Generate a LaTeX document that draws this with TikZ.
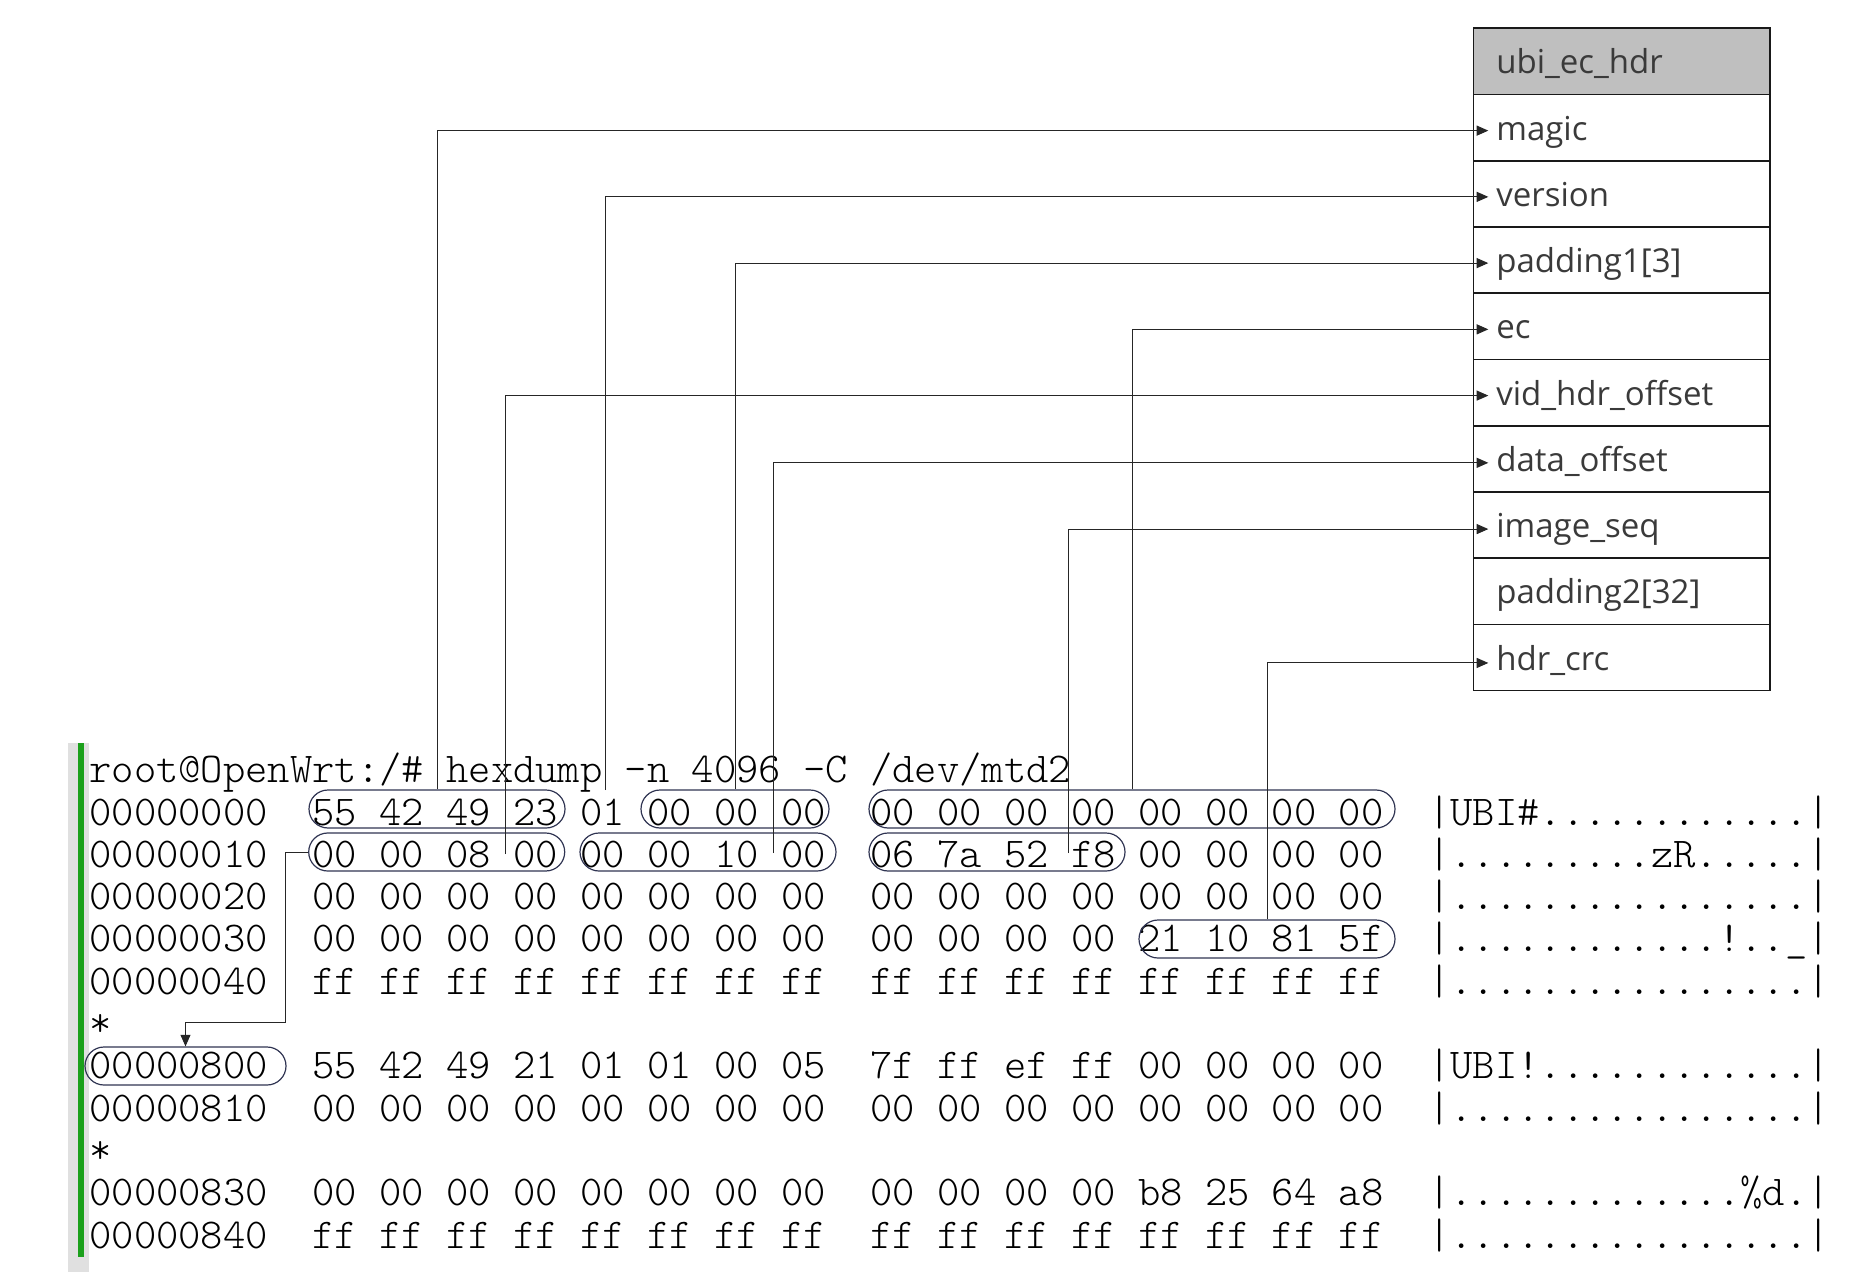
\documentclass[tikz,border=0pt]{standalone}
\usepackage{fontspec}
\usepackage{tikz}
\usetikzlibrary{arrows.meta, positioning}
\newfontfamily\fieldfont{Open Sans}
\newfontfamily\hexfont{Latin Modern Mono Light}
\definecolor{ovalc}{HTML}{2F3452}
\definecolor{hdrgray}{HTML}{BFBFBF}
\definecolor{fieldtxt}{HTML}{3A3A3A}
\definecolor{termgreen}{HTML}{1BA01B}
\definecolor{termgray}{HTML}{E0E0E0}

\begin{document}
\begin{tikzpicture}[
    x=0.5pt, y=-0.5pt,
    node distance=0pt,
    field/.style={rectangle, draw=black!90, line width=0.8pt, text width=125.4pt, inner xsep=11.5pt, inner ysep=0pt, minimum height=33.12pt, align=left, text height=12.6pt, text depth=0pt, outer sep=0pt, text=fieldtxt, font=\fieldfont\fontsize{16.5}{18}\selectfont},
    hexline/.style={anchor=base west, inner sep=0pt, font=\hexfont\fontsize{21.25}{24}\selectfont},
    grp/.style={draw=ovalc, line width=0.6pt, rounded corners=9.5pt, minimum height=19pt, inner sep=0pt},
    link/.style={draw=black!85, line width=0.5pt, -{Triangle[length=5.8pt, width=5pt]}}
]
\useasboundingbox (0,0) rectangle (1851,1272);

% Terminal margin bars
\fill[termgray] (68.3,742.7) rectangle (89.3,1272);
\fill[termgreen] (78.3,742.7) rectangle (84,1257);

% Struct table
\node[field, fill=hdrgray] (hdr) at (1621.7,61.4) {ubi\_ec\_hdr};
\node[field, below=of hdr] (magic) {magic};
\node[field, below=of magic] (version) {version};
\node[field, below=of version] (pad1) {padding1[3]};
\node[field, below=of pad1] (ec) {ec};
\node[field, below=of ec] (vid) {vid\_hdr\_offset};
\node[field, below=of vid] (dataoff) {data\_offset};
\node[field, below=of dataoff] (seq) {image\_seq};
\node[field, below=of seq] (pad2) {padding2[32]};
\node[field, below=of pad2] (crc) {hdr\_crc};

% Hexdump output
\node[hexline] (l0) at (89,782.7) {root@OpenWrt:/\#~hexdump~-n~4096~-C~/dev/mtd2};
\node[hexline] (l1) at (89,825.0) {00000000~~55~42~49~23~01~00~00~00~~00~00~00~00~00~00~00~00~~|UBI\#............|};
\node[hexline] (l2) at (89,867.3) {00000010~~00~00~08~00~00~00~10~00~~06~7a~52~f8~00~00~00~00~~|.........zR.....|};
\node[hexline] (l3) at (89,909.6) {00000020~~00~00~00~00~00~00~00~00~~00~00~00~00~00~00~00~00~~|................|};
\node[hexline] (l4) at (89,951.9) {00000030~~00~00~00~00~00~00~00~00~~00~00~00~00~21~10~81~5f~~|............!..\_|};
\node[hexline] (l5) at (89,994.2) {00000040~~ff~ff~ff~ff~ff~ff~ff~ff~~ff~ff~ff~ff~ff~ff~ff~ff~~|................|};
\node[hexline] (l6) at (89,1036.5) {*};
\node[hexline] (l7) at (89,1078.8) {00000800~~55~42~49~21~01~01~00~05~~7f~ff~ef~ff~00~00~00~00~~|UBI!............|};
\node[hexline] (l8) at (89,1121.1) {00000810~~00~00~00~00~00~00~00~00~~00~00~00~00~00~00~00~00~~|................|};
\node[hexline] (l9) at (89,1163.4) {*};
\node[hexline] (l10) at (89,1205.7) {00000830~~00~00~00~00~00~00~00~00~~00~00~00~00~b8~25~64~a8~~|.............\%d.|};
\node[hexline] (l11) at (89,1248.0) {00000840~~ff~ff~ff~ff~ff~ff~ff~ff~~ff~ff~ff~ff~ff~ff~ff~ff~~|................|};

% Byte groups
\node[grp, minimum width=128pt] (magicgrp) at (437,809) {};
\node[grp, minimum width=94pt] (padgrp) at (735,809) {};
\node[grp, minimum width=263pt] (ecgrp) at (1132,809) {};
\node[grp, minimum width=128pt] (vidgrp) at (436.7,852) {};
\node[grp, minimum width=128pt] (datagrp) at (708,852) {};
\node[grp, minimum width=128pt] (seqgrp) at (997,852) {};
\node[grp, minimum width=128pt] (crcgrp) at (1267,939) {};
\node[grp, minimum width=100.5pt] (loopgrp) at (185.5,1066) {};

\coordinate (verpt) at (605,790);
\coordinate (vidpt) at (505.7,854);
\coordinate (datapt) at (773.3,853);
\coordinate (seqpt) at (1068.3,853);
\coordinate (jog) at (285,1022);

% Field arrows
\draw[link] (magicgrp.north) |- ([xshift=7.5pt, yshift=-1.5pt]magic.west);
\draw[link] (verpt) |- ([xshift=7.5pt, yshift=-1.5pt]version.west);
\draw[link] (padgrp.north) |- ([xshift=7.5pt, yshift=-1.5pt]pad1.west);
\draw[link] (ecgrp.north) |- ([xshift=7.5pt, yshift=-1.5pt]ec.west);
\draw[link] (vidpt) |- ([xshift=7.5pt, yshift=-1.5pt]vid.west);
\draw[link] (datapt) |- ([xshift=7.5pt, yshift=-2pt]dataoff.west);
\draw[link] (seqpt) |- ([xshift=7.5pt, yshift=-2pt]seq.west);
\draw[link] (crcgrp.north) |- ([xshift=7.5pt, yshift=-2.7pt]crc.west);

% vid_hdr_offset jump
\draw[link] (vidgrp.west) -| (jog) -| (loopgrp.north);

\end{tikzpicture}
\end{document}
